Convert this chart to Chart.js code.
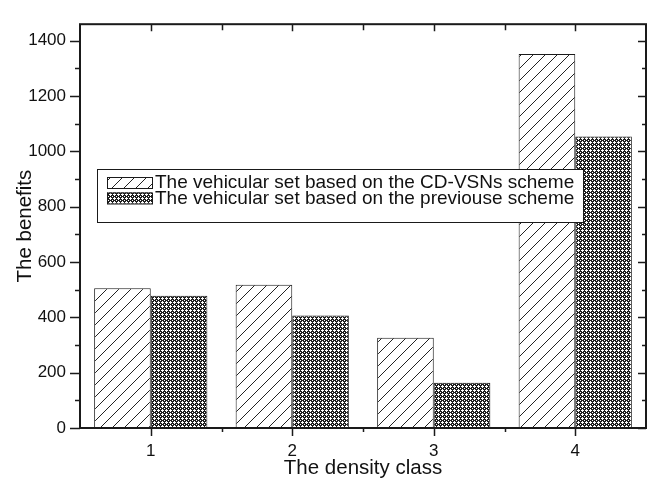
<!DOCTYPE html>
<html><head><meta charset="utf-8">
<script src="https://cdn.jsdelivr.net/npm/chart.js@4/dist/chart.umd.min.js"></script>
<style>html,body{margin:0;padding:0;background:#fff}canvas{display:block}</style>
</head><body>
<canvas id="c" width="647" height="479"></canvas>
<script>
const categories = ['1', '2', '3', '4'];
const seriesNames = ['The vehicular set based on the CD-VSNs scheme', 'The vehicular set based on the previouse scheme'];
const cdVsnsValues = [505, 518, 326, 1352];
const previousValues = [478, 407, 164, 1054];
const yTickValues = [0, 200, 400, 600, 800, 1000, 1200, 1400];
const yMinorTickValues = [100, 300, 500, 700, 900, 1100, 1300];
const yMin = 0, yMax = 1460;
const xTitle = 'The density class';
const yTitle = 'The benefits';

const FONT = '"Liberation Sans", Arial, sans-serif';
const INK = '#1a1a1a';
const canvas = document.getElementById('c');
const ctx0 = canvas.getContext('2d');

function hatchPattern() {
  const s = 12;
  const t = document.createElement('canvas'); t.width = s; t.height = s;
  const g = t.getContext('2d');
  g.fillStyle = '#fff'; g.fillRect(0, 0, s, s);
  g.strokeStyle = '#222'; g.lineWidth = 1;
  g.beginPath();
  g.moveTo(-2, s + 2); g.lineTo(s + 2, -2);
  g.moveTo(-2, 2); g.lineTo(2, -2);
  g.moveTo(s - 2, s + 2); g.lineTo(s + 2, s - 2);
  g.stroke();
  return ctx0.createPattern(t, 'repeat');
}
function crossPattern() {
  const s = 4;
  const t = document.createElement('canvas'); t.width = s; t.height = s;
  const g = t.getContext('2d');
  const img = g.createImageData(s, s);
  const white = [[2,1],[1,2],[2,2],[3,2],[2,3],[0,0]];
  for (let y = 0; y < s; y++) for (let x = 0; x < s; x++) {
    const i = (y * s + x) * 4;
    const w = white.some(p => p[0] === x && p[1] === y);
    const v = w ? 255 : 30;
    img.data[i] = v; img.data[i+1] = v; img.data[i+2] = v; img.data[i+3] = 255;
  }
  g.putImageData(img, 0, 0);
  return ctx0.createPattern(t, 'repeat');
}
const patA = hatchPattern();
const patB = crossPattern();

const framePlugin = {
  id: 'frame',
  afterDatasetsDraw(chart) {
    const {ctx, chartArea: a, scales: {x, y}} = chart;
    ctx.save();
    ctx.strokeStyle = INK;
    ctx.lineWidth = 1.5;
    ctx.beginPath();
    const yt = (vals, outL, inR) => vals.forEach(v => {
      const py = Math.round(y.getPixelForValue(v)) + 0.5;
      ctx.moveTo(a.left - outL, py); ctx.lineTo(a.left, py);
      ctx.moveTo(a.right, py); ctx.lineTo(a.right - inR, py);
    });
    yt(yTickValues, 10, 8);
    yt(yMinorTickValues, 5, 4);
    categories.forEach((c, i) => {
      const px = Math.round(x.getPixelForValue(i)) + 0.5;
      ctx.moveTo(px, a.bottom); ctx.lineTo(px, a.bottom + 8);
      ctx.moveTo(px, a.top); ctx.lineTo(px, a.top + 7);
      if (i < categories.length - 1) {
        const mx = Math.round((x.getPixelForValue(i) + x.getPixelForValue(i + 1)) / 2) + 0.5;
        ctx.moveTo(mx, a.bottom); ctx.lineTo(mx, a.bottom + 4);
        ctx.moveTo(mx, a.top); ctx.lineTo(mx, a.top + 6);
      }
    });
    ctx.stroke();
    ctx.lineWidth = 2;
    ctx.strokeRect(a.left, a.top, a.right - a.left, a.bottom - a.top);

    // legend
    const lx = 97.5, ly = 169.5, lw = 486, lh = 53;
    ctx.fillStyle = '#fff';
    ctx.fillRect(lx, ly, lw, lh);
    ctx.lineWidth = 1;
    ctx.strokeRect(lx, ly, lw, lh);
    const pats = [patA, patB];
    chart.data.datasets.forEach((ds, i) => {
      const sy = 177 + i * 15.5;
      ctx.fillStyle = pats[i];
      ctx.fillRect(107, sy, 45, 11);
      ctx.strokeStyle = INK;
      ctx.strokeRect(107.5, sy + 0.5, 45, 11);
      ctx.fillStyle = '#111';
      ctx.font = '19px ' + FONT;
      ctx.textBaseline = 'middle';
      ctx.textAlign = 'left';
      ctx.fillText(ds.label, 155, sy + 6);
    });
    ctx.restore();
  }
};

new Chart(canvas, {
  type: 'bar',
  data: {
    labels: categories,
    datasets: [
      { label: seriesNames[0], data: cdVsnsValues, backgroundColor: patA, borderColor: INK, borderWidth: 1 },
      { label: seriesNames[1], data: previousValues, backgroundColor: patB, borderColor: INK, borderWidth: 1 }
    ]
  },
  options: {
    responsive: false,
    animation: false,
    devicePixelRatio: 1,
    layout: { padding: { top: 13, right: 1, left: 0, bottom: 0 } },
    datasets: { bar: { categoryPercentage: 0.8, barPercentage: 1.0 } },
    plugins: { legend: { display: false }, tooltip: { enabled: false } },
    scales: {
      x: {
        type: 'category',
        offset: true,
        grid: { display: true, drawOnChartArea: false, drawTicks: false },
        border: { display: false },
        ticks: { color: '#111', font: { size: 17, family: FONT }, padding: 13 },
        title: { display: true, text: xTitle, color: '#111', font: { size: 20.5, family: FONT }, padding: { top: 0, bottom: -2 } },
        afterFit(s) { s.height = 51; }
      },
      y: {
        type: 'linear',
        min: yMin, max: yMax,
        grid: { display: true, drawOnChartArea: false, drawTicks: false },
        border: { display: false },
        ticks: { color: '#111', font: { size: 17, family: FONT }, padding: 14, callback: v => String(v) },
        afterBuildTicks(s) { s.ticks = yTickValues.map(v => ({ value: v })); },
        title: { display: true, text: yTitle, color: '#111', font: { size: 20.5, family: FONT }, padding: { top: 13, bottom: 0 } },
        afterFit(s) { s.width = 80; }
      }
    }
  },
  plugins: [framePlugin]
});
</script>
</body></html>
